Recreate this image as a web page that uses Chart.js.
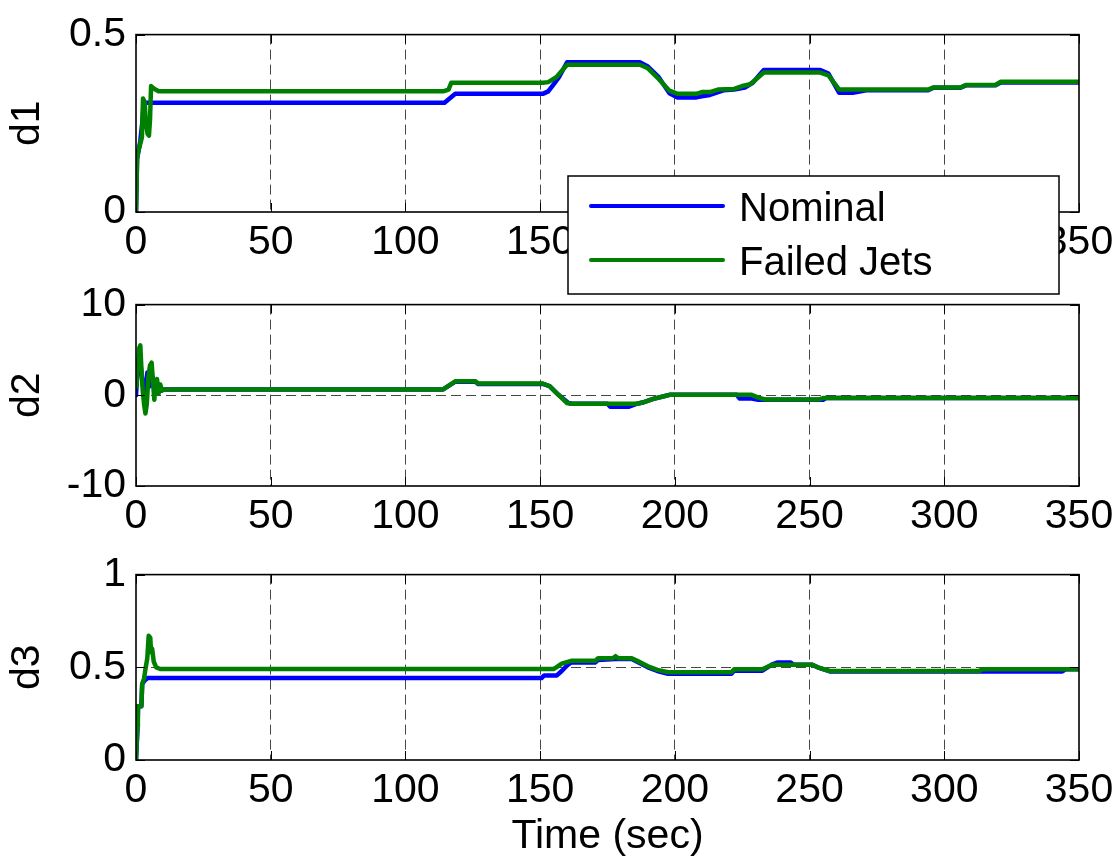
<!DOCTYPE html>
<html>
<head>
<meta charset="utf-8">
<title>d1 d2 d3</title>
<script src="https://cdn.jsdelivr.net/npm/chart.js@4.4.0/dist/chart.umd.min.js"></script>
<style>
  html, body { margin: 0; padding: 0; background: #fff; }
  #wrap { position: relative; width: 1120px; height: 863px; overflow: hidden; }
  #wrap canvas { position: absolute; left: 0; }
</style>
</head>
<body>
<div id="wrap">
  <canvas id="d3Chart" width="1120" height="323" style="top:540px"></canvas>
  <canvas id="d2Chart" width="1120" height="300" style="top:270px"></canvas>
  <canvas id="d1Chart" width="1120" height="300" style="top:0px"></canvas>
</div>
<script>
// time axis and tick labels
const timeTicks = [0, 50, 100, 150, 200, 250, 300, 350];
const d1Ticks = [0, 0.5];
const d2Ticks = [-10, 0, 10];
const d3Ticks = [0, 0.5, 1];

// d1
const d1NominalT = [0, 0.4, 0.9, 1.6, 2.3, 2.8, 3.5, 114.5, 118.5, 151, 153, 155, 157, 160, 187, 190, 194, 198, 201, 208,
  210, 213, 218, 222, 226, 229, 233, 254, 257, 261, 266, 271, 294, 296, 306, 308, 319, 321, 350];
const d1Nominal = [0, 0.15, 0.17, 0.2, 0.25, 0.3, 0.308, 0.308, 0.333, 0.333, 0.34, 0.36, 0.38, 0.422, 0.422, 0.41, 0.38, 0.335, 0.323, 0.323,
  0.326, 0.33, 0.343, 0.345, 0.351, 0.365, 0.4, 0.4, 0.39, 0.336, 0.336, 0.343, 0.343, 0.35, 0.35, 0.357, 0.357, 0.365, 0.365];
const d1FailedT = [0, 0.4, 0.8, 1.5, 2.2, 2.6, 3.2, 3.7, 4.3, 4.8, 5.2, 5.6, 6.3, 7.2, 8.5, 114, 116, 117, 151, 153, 156, 160,
  187, 190, 194, 198, 201, 208, 210, 213, 216, 222, 225, 228, 233, 254, 257, 261, 271, 294, 296, 306, 308, 319, 321, 350];
const d1Failed = [0, 0.15, 0.17, 0.19, 0.21, 0.32, 0.31, 0.25, 0.22, 0.215, 0.26, 0.355, 0.35, 0.345, 0.34, 0.34, 0.345, 0.364, 0.364, 0.366, 0.38, 0.415,
  0.415, 0.405, 0.375, 0.342, 0.333, 0.333, 0.338, 0.338, 0.345, 0.347, 0.355, 0.36, 0.393, 0.393, 0.385, 0.345, 0.345, 0.345, 0.351, 0.351, 0.358, 0.358, 0.367, 0.367];

// d2
const d2NominalT = [0, 0.5, 1.3, 2.2, 3.2, 4.2, 5.2, 6.2, 7.2, 8.2, 9.5, 114, 118.5, 126, 127, 151, 153.5, 157, 160.5, 162,
  175, 176, 183, 186, 188, 192, 196, 198, 223, 224, 228.5, 231, 255, 256, 350];
const d2Nominal = [0, 2.5, 4.5, 2.0, -0.3, 2.5, 1.0, 2.0, 0.3, 1.2, 0.65, 0.65, 1.5, 1.5, 1.25, 1.25, 1.0, 0, -0.85, -0.93,
  -0.93, -1.25, -1.25, -0.93, -0.8, -0.4, -0.1, 0.05, 0.05, -0.35, -0.35, -0.5, -0.5, -0.3, -0.3];
const d2FailedT = [0, 0.3, 0.8, 1.2, 1.6, 2.0, 2.5, 3.0, 3.5, 4.0, 4.6, 5.2, 5.8, 6.3, 6.8, 7.3, 7.8, 8.4, 9.0, 9.6,
  10.2, 114, 118.5, 126, 127, 151, 153.5, 157, 160, 161.5, 186, 188, 192, 196, 198, 228.5, 231, 233.5, 253.5, 255, 350];
const d2Failed = [1.0, 2.5, 3.0, 5.2, 5.5, 3.0, 0.5, -1.0, -2.0, -1.0, 2.0, 3.3, 3.6, 1.5, -0.5, 1.5, 1.8, 0.2, 1.2, 0.5,
  0.65, 0.65, 1.55, 1.55, 1.3, 1.3, 1.0, 0, -0.85, -0.93, -0.93, -0.8, -0.4, -0.1, 0.05, 0.05, -0.25, -0.45, -0.45, -0.3, -0.3];

// d3
const d3NominalT = [0, 0.5, 0.8, 2.0, 2.3, 3.3, 4.3, 150.5, 151.5, 156.2, 158, 160, 161.5, 170.5, 171.5, 178, 184, 186, 190, 193.5, 197.5,
  221, 222, 232.5, 236, 238, 243, 244, 251, 253, 257.5, 343.8, 345, 350];
const d3Nominal = [0, 0.15, 0.29, 0.29, 0.41, 0.43, 0.442, 0.442, 0.456, 0.456, 0.48, 0.51, 0.526, 0.526, 0.54, 0.545, 0.545, 0.53, 0.5, 0.48, 0.465,
  0.465, 0.482, 0.482, 0.514, 0.526, 0.526, 0.514, 0.514, 0.5, 0.478, 0.478, 0.489, 0.489];
const d3FailedT = [0, 0.5, 0.7, 2.0, 2.3, 3.0, 3.5, 4.2, 4.7, 5.3, 5.6, 6.0, 6.6, 7.5, 9, 155, 156, 158, 161.5,
  170.5, 171.5, 177, 178, 179, 184, 186, 190, 193.5, 197.5, 221, 222, 232.5, 236, 251, 253, 257.5, 313, 314, 350];
const d3Failed = [0, 0.18, 0.29, 0.29, 0.41, 0.44, 0.49, 0.55, 0.67, 0.66, 0.58, 0.6, 0.53, 0.5, 0.491, 0.491, 0.5, 0.52, 0.535,
  0.535, 0.549, 0.549, 0.56, 0.549, 0.549, 0.535, 0.505, 0.486, 0.473, 0.473, 0.489, 0.489, 0.514, 0.514, 0.5, 0.48, 0.48, 0.489, 0.489];

const NOMINAL_COLOR = '#0000ff';
const FAILED_COLOR = '#008000';
const GRID_COLOR = 'rgba(0,0,0,0.72)';
const FONT = '"Liberation Sans", Arial, Helvetica, sans-serif';
const FONT_SIZE = 41;

Chart.defaults.font.family = FONT;
Chart.defaults.font.size = FONT_SIZE;
Chart.defaults.color = '#000';

const pairs = (t, v) => t.map((x, i) => ({ x: x, y: v[i] }));

// black frame around the plot area with inward tick marks
const axesBox = {
  id: 'axesBox',
  afterDatasetsDraw(chart) {
    const { ctx, chartArea: a, scales } = chart;
    const tl = 9;
    ctx.save();
    ctx.strokeStyle = '#000';
    ctx.lineWidth = 1;
    ctx.beginPath();
    scales.x.ticks.forEach(t => {
      const px = Math.round(scales.x.getPixelForValue(t.value)) + 0.5;
      ctx.moveTo(px, a.bottom); ctx.lineTo(px, a.bottom - tl);
      ctx.moveTo(px, a.top); ctx.lineTo(px, a.top + tl);
    });
    scales.y.ticks.forEach(t => {
      const py = Math.round(scales.y.getPixelForValue(t.value)) + 0.5;
      ctx.moveTo(a.left, py); ctx.lineTo(a.left + tl, py);
      ctx.moveTo(a.right, py); ctx.lineTo(a.right - tl, py);
    });
    ctx.stroke();
    ctx.lineWidth = 1.6;
    ctx.strokeRect(a.left, a.top, a.right - a.left, a.bottom - a.top);
    ctx.restore();
  }
};

// boxed legend sitting over the lower right of the top panel
const boxLegend = {
  id: 'boxLegend',
  afterDraw(chart) {
    const { ctx, chartArea: a } = chart;
    const w = 491, h = 118;
    const x = a.right - 20 - w, y = a.bottom - 36;
    ctx.save();
    ctx.fillStyle = '#fff';
    ctx.fillRect(x, y, w, h);
    ctx.strokeStyle = '#000';
    ctx.lineWidth = 1.5;
    ctx.strokeRect(x, y, w, h);
    ctx.font = '40px ' + FONT;
    ctx.textBaseline = 'alphabetic';
    chart.data.datasets.forEach((ds, i) => {
      const cy = y + 30 + i * 54;
      ctx.strokeStyle = ds.borderColor;
      ctx.lineWidth = 4;
      ctx.lineCap = 'round';
      ctx.beginPath();
      ctx.moveTo(x + 23, cy);
      ctx.lineTo(x + 155, cy);
      ctx.stroke();
      ctx.fillStyle = '#000';
      ctx.fillText(ds.label, x + 171, cy + 15);
    });
    ctx.restore();
  }
};

function makePanel(id, cfg) {
  const hideEdges = (lo, hi) => ctx => (ctx.tick && (ctx.tick.value === lo || ctx.tick.value === hi)) ? 0 : 1;
  const yLo = cfg.yTicks[0], yHi = cfg.yTicks[cfg.yTicks.length - 1];
  return new Chart(document.getElementById(id), {
    type: 'line',
    data: {
      datasets: [
        { label: 'Nominal', data: pairs(cfg.nomT, cfg.nom), borderColor: NOMINAL_COLOR, order: 1 },
        { label: 'Failed Jets', data: pairs(cfg.failT, cfg.fail), borderColor: FAILED_COLOR, order: 0 }
      ]
    },
    options: {
      responsive: false,
      animation: false,
      events: [],
      layout: { padding: { top: cfg.padTop, right: 41, left: 0, bottom: 0 } },
      elements: {
        line: { borderWidth: 4.5, tension: 0, fill: false, borderCapStyle: 'round', borderJoinStyle: 'round' },
        point: { radius: 0 }
      },
      plugins: { legend: { display: false }, tooltip: { enabled: false } },
      scales: {
        x: {
          type: 'linear',
          min: timeTicks[0],
          max: timeTicks[timeTicks.length - 1],
          afterBuildTicks: s => { s.ticks = timeTicks.map(v => ({ value: v })); },
          afterFit: s => { s.height = cfg.xAxisHeight; },
          grid: { drawTicks: false, color: GRID_COLOR, lineWidth: hideEdges(timeTicks[0], timeTicks[timeTicks.length - 1]) },
          border: { display: false, dash: [10, 5] },
          ticks: { padding: 6, maxRotation: 0, autoSkip: false, callback: v => String(v) },
          title: cfg.xTitle ? { display: true, text: cfg.xTitle, padding: { top: 0, bottom: 2 } } : { display: false }
        },
        y: {
          type: 'linear',
          min: yLo,
          max: yHi,
          afterBuildTicks: s => { s.ticks = cfg.yTicks.map(v => ({ value: v })); },
          afterFit: s => { s.width = 136; },
          grid: { drawTicks: false, color: GRID_COLOR, lineWidth: hideEdges(yLo, yHi) },
          border: { display: false, dash: [10, 5] },
          ticks: { padding: 10, callback: v => String(v) },
          title: { display: true, text: cfg.yTitle, padding: { top: 3, bottom: 0 } }
        }
      }
    },
    plugins: cfg.legend ? [axesBox, boxLegend] : [axesBox]
  });
}

makePanel('d1Chart', {
  nomT: d1NominalT, nom: d1Nominal, failT: d1FailedT, fail: d1Failed,
  yTicks: d1Ticks, yTitle: 'd1', padTop: 24, xAxisHeight: 88, legend: true
});
makePanel('d2Chart', {
  nomT: d2NominalT, nom: d2Nominal, failT: d2FailedT, fail: d2Failed,
  yTicks: d2Ticks, yTitle: 'd2', padTop: 26, xAxisHeight: 84
});
makePanel('d3Chart', {
  nomT: d3NominalT, nom: d3Nominal, failT: d3FailedT, fail: d3Failed,
  yTicks: d3Ticks, yTitle: 'd3', padTop: 30, xAxisHeight: 103, xTitle: 'Time (sec)'
});
</script>
</body>
</html>
